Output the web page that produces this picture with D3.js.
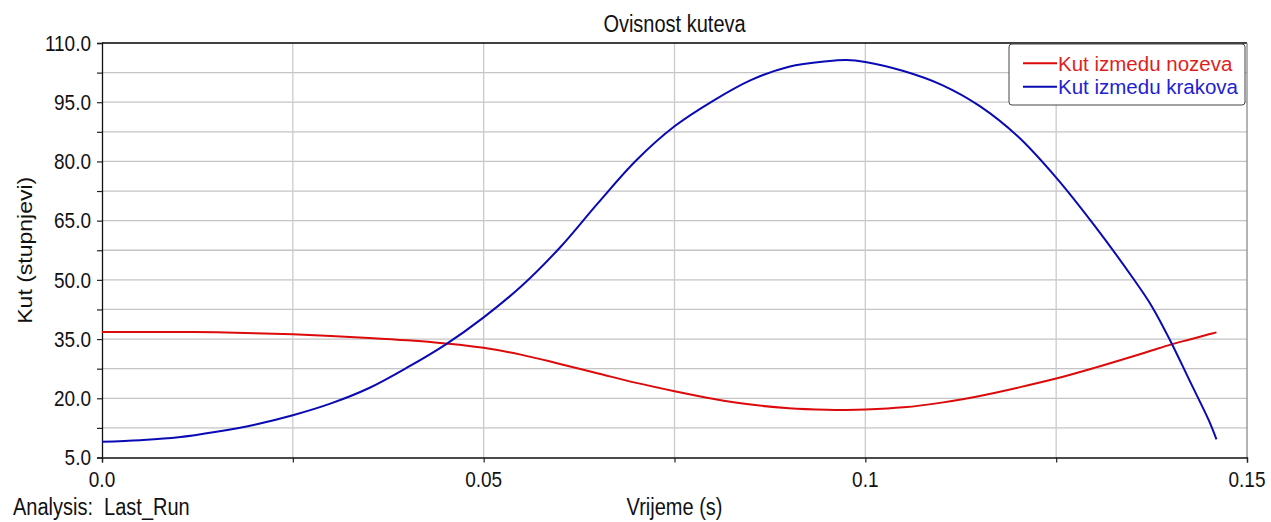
<!DOCTYPE html>
<html>
<head>
<meta charset="utf-8">
<script src="https://cdn.jsdelivr.net/npm/d3@7"></script>
<style>
  body { margin: 0; background: #fff; }
  text { font-family: "Liberation Sans", Arial, sans-serif; fill: #111; }
</style>
</head>
<body>
<div id="chart"></div>
<script>
// 1: DATA
const timeS = [0, 0.005, 0.01, 0.015, 0.02, 0.025, 0.03, 0.035, 0.04, 0.045,
  0.05, 0.055, 0.06, 0.065, 0.07, 0.075, 0.08, 0.085, 0.09, 0.095, 0.0975,
  0.1, 0.105, 0.11, 0.115, 0.12, 0.125, 0.13, 0.135, 0.1375, 0.14, 0.1425, 0.145, 0.146];

const kutNozeva = [36.8, 36.8, 36.8, 36.7, 36.5, 36.2, 35.8, 35.3, 34.7, 33.9,
  32.8, 31.0, 28.7, 26.3, 23.9, 21.8, 19.9, 18.4, 17.5, 17.1, 17.05,
  17.15, 17.7, 18.9, 20.6, 22.7, 25.0, 27.7, 30.6, 32.1, 33.6, 34.9, 36.2, 36.7];

const kutKrakova = [9.0, 9.4, 10.1, 11.5, 13.3, 15.7, 18.7, 22.6, 27.8, 33.6,
  40.5, 48.5, 58.2, 69.5, 80.3, 88.9, 95.3, 100.6, 104.0, 105.4, 105.7,
  105.2, 102.9, 99.4, 94.0, 86.3, 75.9, 63.8, 50.6, 43.4, 34.4, 24.4, 14.4, 9.6];

const seriesNames = ["Kut izmedu nozeva", "Kut izmedu krakova"];
const seriesColors = ["#dc0a0a", "#0a0ab4"];
const legendColors = ["#e01e1e", "#1e22d2"];

const yTicks = [5, 20, 35, 50, 65, 80, 95, 110];
const yMinor = d3.range(5, 110.01, 7.5);
const xTicks = [0, 0.05, 0.1, 0.15];
const xTickLabels = ["0.0", "0.05", "0.1", "0.15"];
const xMinor = [0, 0.025, 0.05, 0.075, 0.1, 0.125, 0.15];

// 2: LAYOUT
const W = 1271, H = 522;
const margin = { top: 43, right: 24, bottom: 64.5, left: 102 };
const width = W - margin.left - margin.right;
const height = H - margin.top - margin.bottom;
const stretch = 1.15; // reference text is a bit taller than wide

const svg = d3.select("#chart").append("svg")
  .attr("width", W).attr("height", H);

const g = svg.append("g")
  .attr("transform", `translate(${margin.left},${margin.top})`);

// 3: SCALES
const x = d3.scaleLinear().domain([0, 0.15]).range([0, width]);
const y = d3.scaleLinear().domain([5, 110]).range([height, 0]);

// 4: GRID
g.append("g").selectAll("line").data(yMinor.slice(1, -1)).join("line")
  .attr("x1", 0).attr("x2", width)
  .attr("y1", d => y(d)).attr("y2", d => y(d))
  .attr("stroke", "#c4c4c4").attr("stroke-width", 1.3);

g.append("g").selectAll("line").data(xMinor.slice(1, -1)).join("line")
  .attr("x1", d => x(d)).attr("x2", d => x(d))
  .attr("y1", 0).attr("y2", height)
  .attr("stroke", "#cbcbcb").attr("stroke-width", 1.3);

// frame: top black, right grey
g.append("line").attr("x1", 0).attr("x2", width).attr("y1", 0).attr("y2", 0)
  .attr("stroke", "#000").attr("stroke-width", 1.3);
g.append("line").attr("x1", width).attr("x2", width).attr("y1", 0).attr("y2", height)
  .attr("stroke", "#8a8a8a").attr("stroke-width", 1.3);

// 5: AXES (ticks only, labels drawn below)
const yAxis = g.append("g")
  .call(d3.axisLeft(y).tickValues(yMinor).tickSize(5).tickFormat(""));
const xAxis = g.append("g")
  .attr("transform", `translate(0,${height})`)
  .call(d3.axisBottom(x).tickValues(xMinor).tickSize(5).tickFormat(""));
[yAxis, xAxis].forEach(a => {
  a.select(".domain").attr("stroke", "#111").attr("stroke-width", 1.3);
  a.selectAll(".tick line").attr("stroke", "#222").attr("stroke-width", 1.2);
});

// stretched text helper
function label(parent, tx, ty, str, size, anchor, color, sy) {
  return parent.append("text")
    .attr("transform", `translate(${tx},${ty}) scale(1,${sy || stretch})`)
    .attr("text-anchor", anchor)
    .style("font-size", size + "px")
    .style("fill", color || "#111")
    .style("white-space", "pre")
    .text(str);
}

yTicks.forEach(v => label(g, -11, y(v) + 7.8, d3.format(".1f")(v), 19, "end"));
xTicks.forEach((v, i) => label(g, x(v), height + 29.5, xTickLabels[i], 19, "middle"));

// 6: LINES
const line = d3.line()
  .x(d => x(d[0]))
  .y(d => y(d[1]))
  .curve(d3.curveCatmullRom.alpha(0.5));

[kutNozeva, kutKrakova].forEach((vals, i) => {
  g.append("path")
    .datum(timeS.map((t, k) => [t, vals[k]]))
    .attr("fill", "none")
    .attr("stroke", seriesColors[i])
    .attr("stroke-width", 2)
    .attr("d", line);
});

// 7: LABELS
label(svg, margin.left + width / 2, 31.7, "Ovisnost kuteva", 20, "middle");
label(svg, margin.left + width / 2, 515, "Vrijeme (s)", 20, "middle");
label(svg, 13, 515, "Analysis:  Last_Run", 20, "start");

svg.append("text")
  .attr("transform", `translate(31.5,${margin.top + height / 2}) rotate(-90) scale(${stretch},1)`)
  .attr("text-anchor", "middle")
  .style("font-size", "20px")
  .text("Kut (stupnjevi)");

// legend
const legend = svg.append("g");
legend.append("rect")
  .attr("x", 1009).attr("y", 44).attr("width", 236).attr("height", 61)
  .attr("rx", 3)
  .attr("fill", "#fff").attr("stroke", "#444").attr("stroke-width", 1);

seriesNames.forEach((name, i) => {
  const ly = 63.3 + i * 23.4;
  legend.append("line")
    .attr("x1", 1023).attr("x2", 1057).attr("y1", ly).attr("y2", ly)
    .attr("stroke", seriesColors[i]).attr("stroke-width", 2);
  label(legend, 1058, ly + 7.2, name, 20.5, "start", legendColors[i], 1.0);
});
</script>
</body>
</html>
